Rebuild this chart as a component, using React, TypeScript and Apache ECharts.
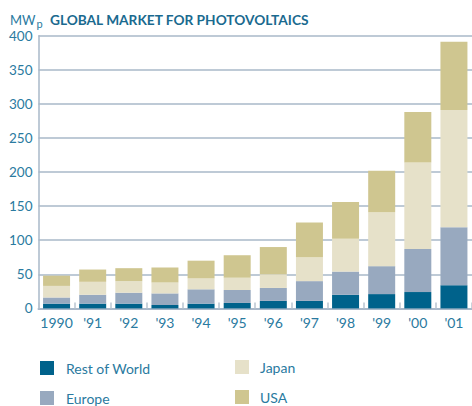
import React, { useEffect, useRef } from "react";
import * as echarts from "echarts";

const categories = ["1990", "'91", "'92", "'93", "'94", "'95", "'96", "'97", "'98", "'99", "'00", "'01"];
const restOfWorld = [7, 7, 7, 5, 7, 8, 11, 11, 20, 21, 24, 34];
const europe = [9, 13, 16, 17, 21, 19, 19, 29, 34, 41, 63, 85];
const japan = [17, 19, 17, 16, 16, 18, 20, 35, 48, 79, 127, 172];
const usa = [15, 18, 19, 22, 26, 33, 40, 51, 54, 61, 74, 100];
const yTicks = { min: 0, max: 400, interval: 50 };

const FONT = "Lato, 'Open Sans', sans-serif";
const TEXT = "#2a7aa0";
const TITLE = "#1a6a8f";
const GRID = "#a9b8c9";
const COLORS = { row: "#00628b", eu: "#98a9bf", jp: "#e6e1c9", us: "#cfc690" };

export default function App() {
  const ref = useRef<HTMLDivElement>(null);
  useEffect(() => {
    if (!ref.current) return;
    const chart = echarts.init(ref.current, undefined, { renderer: "svg" });
    const bar = (name: string, data: number[], color: string) => ({
      name,
      type: "bar",
      stack: "total",
      data,
      barWidth: 27,
      itemStyle: { color },
      emphasis: { disabled: true },
    });
    const legendText = {
      fontFamily: FONT,
      fontSize: 14,
      color: TEXT,
      lineHeight: 14,
      padding: [0, 0, 0, 7],
    };
    chart.setOption({
      animation: false,
      textStyle: { fontFamily: FONT },
      title: [
        {
          text: "{a|MW}{b|p}",
          left: 10,
          top: 10,
          padding: 0,
          textStyle: {
            fontWeight: "normal",
            rich: {
              a: { fontFamily: FONT, fontSize: 13, fontWeight: "normal", color: TEXT, lineHeight: 16, verticalAlign: "bottom" },
              b: { fontFamily: FONT, fontSize: 11, fontWeight: "normal", color: TEXT, lineHeight: 16, verticalAlign: "bottom", padding: [0, 0, -3, 1] },
            },
          },
        },
        {
          text: "GLOBAL MARKET FOR PHOTOVOLTAICS",
          left: 50,
          top: 12,
          padding: 0,
          textStyle: { fontFamily: FONT, fontSize: 13.7, fontWeight: "bold", color: TITLE, lineHeight: 14 },
        },
      ],
      legend: [
        {
          data: ["Rest of World", "Europe"],
          orient: "vertical",
          left: 40,
          top: 361,
          padding: 0,
          itemWidth: 14,
          itemHeight: 14,
          itemGap: 16,
          icon: "rect",
          selectedMode: false,
          textStyle: legendText,
        },
        {
          data: ["Japan", "USA"],
          orient: "vertical",
          left: 235,
          top: 360,
          padding: 0,
          itemWidth: 14,
          itemHeight: 14,
          itemGap: 16,
          icon: "rect",
          selectedMode: false,
          textStyle: { ...legendText, padding: [0, 0, 0, 6] },
        },
      ],
      grid: { left: 38.5, right: -1.7, top: 35.7, bottom: 97.6 },
      xAxis: {
        type: "category",
        data: categories,
        axisLine: { lineStyle: { color: GRID, width: 2 } },
        axisTick: { show: true, inside: true, length: 6, interval: 0, lineStyle: { color: "#b9c4d0", width: 1.5 } },
        axisLabel: { color: TEXT, fontFamily: FONT, fontSize: 14, margin: 7, lineHeight: 14, interval: 0 },
      },
      yAxis: {
        type: "value",
        min: yTicks.min,
        max: yTicks.max,
        interval: yTicks.interval,
        axisLine: { show: true, lineStyle: { color: GRID, width: 1.5 } },
        axisTick: { show: false },
        splitLine: { lineStyle: { color: GRID, width: 1.5 } },
        axisLabel: { color: TEXT, fontFamily: FONT, fontSize: 13.5, margin: 6, padding: [5, 0, 0, 0] },
      },
      series: [
        bar("Rest of World", restOfWorld, COLORS.row),
        bar("Europe", europe, COLORS.eu),
        bar("Japan", japan, COLORS.jp),
        bar("USA", usa, COLORS.us),
      ],
    });
    return () => chart.dispose();
  }, []);
  return (
    <div
      ref={ref}
      style={{ position: "fixed", left: 0, top: 0, width: 472, height: 406, background: "#fff" }}
    />
  );
}
